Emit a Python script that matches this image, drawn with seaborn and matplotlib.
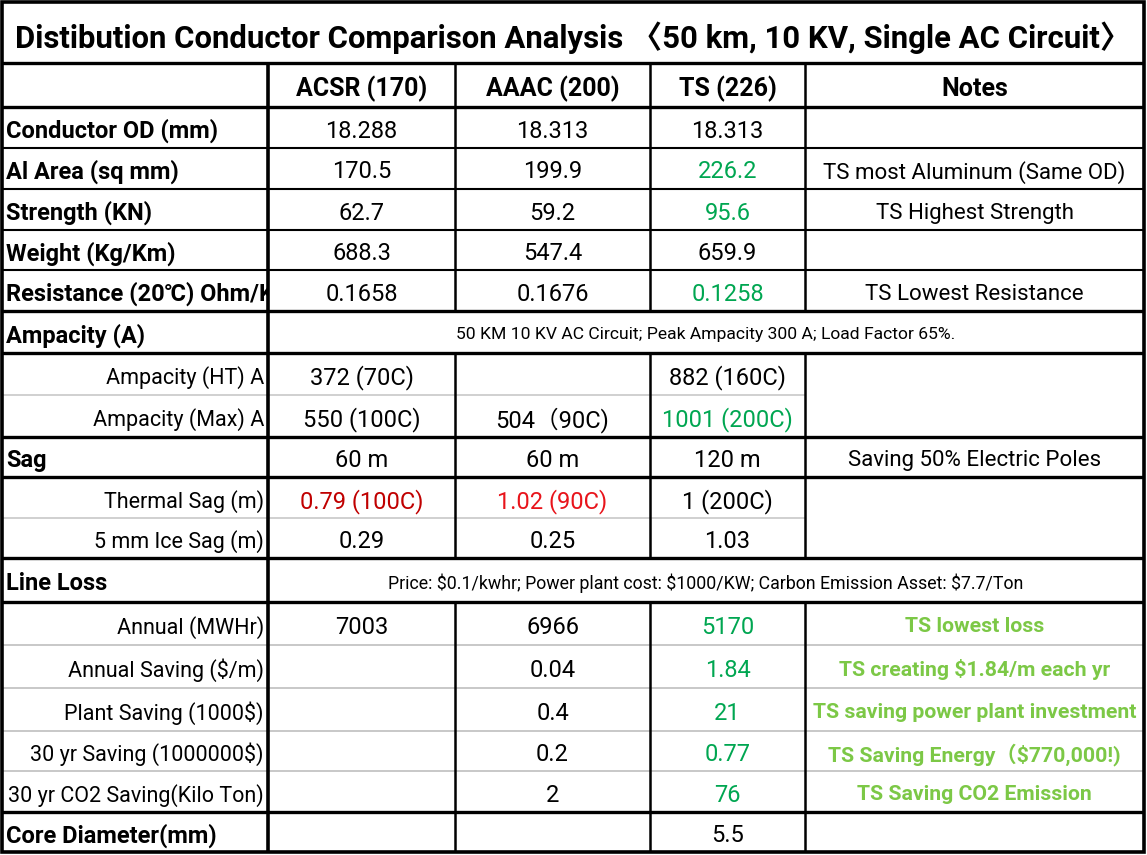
import matplotlib
matplotlib.use("Agg")
import matplotlib.pyplot as plt
from matplotlib import font_manager
from matplotlib.patches import Rectangle
import seaborn as sns

# ---------------- data ----------------
title = "Distibution Conductor Comparison Analysis \u300850 km, 10 KV, Single AC Circuit\u3009"
columns = ["ACSR (170)", "AAAC (200)", "TS (226)", "Notes"]
row_labels = ["Conductor OD (mm)", "Al Area (sq mm)", "Strength (KN)", "Weight (Kg/Km)",
              "Resistance (20\u2103) Ohm/Km", "Ampacity (A)", "Ampacity (HT) A", "Ampacity (Max) A",
              "Sag", "Thermal Sag (m)", "5 mm Ice Sag (m)", "Line Loss", "Annual (MWHr)",
              "Annual Saving ($/m)", "Plant Saving (1000$)", "30 yr Saving (1000000$)",
              "30 yr CO2 Saving(Kilo Ton)", "Core Diameter(mm)"]
row_kind = ["main", "main", "main", "main", "main", "merged", "sub", "sub", "main", "sub", "sub",
            "merged", "sub", "sub", "sub", "sub", "sub", "main"]
acsr = ["18.288", "170.5", "62.7", "688.3", "0.1658", "", "372 (70C)", "550 (100C)", "60 m",
        "0.79 (100C)", "0.29", "", "7003", "", "", "", "", ""]
aaac = ["18.313", "199.9", "59.2", "547.4", "0.1676", "", "", "504\uff0890C)", "60 m",
        "1.02 (90C)", "0.25", "", "6966", "0.04", "0.4", "0.2", "2", ""]
ts = ["18.313", "226.2", "95.6", "659.9", "0.1258", "", "882 (160C)", "1001 (200C)", "120 m",
      "1 (200C)", "1.03", "", "5170", "1.84", "21", "0.77", "76", "5.5"]
notes = ["", "TS most Aluminum (Same OD)", "TS Highest Strength", "", "TS Lowest Resistance", "",
         "", "", "Saving 50% Electric Poles", "", "", "", "TS lowest loss",
         "TS creating $1.84/m each yr", "TS saving power plant investment",
         "TS Saving Energy\uff08$770,000!)", "TS Saving CO2 Emission", ""]
merged_text = {5: "50 KM 10 KV AC Circuit; Peak Ampacity 300 A; Load Factor 65%.",
               11: "Price: $0.1/kwhr; Power plant cost: $1000/KW; Carbon Emission Asset: $7.7/Ton"}

# ---------------- styles ----------------
GREEN = "#00A651"
LGREEN = "#7CC846"
RED1 = "#C00000"
RED2 = "#E8141B"
acsr_col = {9: RED1}
aaac_col = {9: RED2}
ts_col = {1: GREEN, 2: GREEN, 4: GREEN, 7: GREEN, 12: GREEN, 13: GREEN, 14: GREEN, 15: GREEN, 16: GREEN}
note_green = {12, 13, 14, 15, 16}

sns.set_theme(style="white")
avail = {f.name for f in font_manager.fontManager.ttflist}
base = "Liberation Sans Narrow" if "Liberation Sans Narrow" in avail else "Roboto"
FAM = [base, "DejaVu Sans", "Noto Sans CJK SC"]
FAM_T = [base, "Noto Sans CJK SC", "DejaVu Sans"]
plt.rcParams["font.family"] = FAM

W, H = 1147, 855
fig = plt.figure(figsize=(W / 100, H / 100), dpi=100)
ax = fig.add_axes([0, 0, 1, 1])
ax.set_xlim(0, W)
ax.set_ylim(H, 0)
ax.axis("off")

# layout (pixel grid of the table)
xb = [2, 268, 455, 650, 805, 1144]
yb = [2, 63, 107, 148, 189, 230, 270, 311, 353, 395, 437, 477, 518, 558, 602, 645, 688, 731, 771, 812, 852]
ry = yb[2:]

FS = 17
def put(x, y, s, ha="center", weight="normal", color="black", size=FS, fam=None, z=5):
    return ax.text(x, y, s, ha=ha, va="center_baseline", fontsize=size, fontweight=weight,
                   color=color, family=fam or FAM, zorder=z)

# title
tt = put((xb[0] + xb[-1]) / 2, (yb[0] + yb[1]) / 2 + 2, title, weight="bold", size=28, fam=FAM_T)
fig.canvas.draw()
bb = tt.get_window_extent()
tt.set_fontsize(28 * 1118 / bb.width)

# header
for j, c in enumerate(columns):
    put((xb[j + 1] + xb[j + 2]) / 2, (yb[1] + yb[2]) / 2 + 1, c, weight="bold", size=FS + 1)

cols = [acsr, aaac, ts]
cmaps = [acsr_col, aaac_col, ts_col]
for i, lab in enumerate(row_labels):
    yc = (ry[i] + ry[i + 1]) / 2 + 1
    if row_kind[i] == "sub":
        put(xb[1] - 4, yc, lab, ha="right", size=FS - 1.5)
    else:
        put(xb[0] + 4, yc, lab, ha="left", weight="bold", size=FS, z=3)
        # mask the overflow of a long label into the neighbouring cell
        ax.add_patch(Rectangle((xb[1], ry[i] + 2), 40, ry[i + 1] - ry[i] - 4,
                               fc="white", ec="none", zorder=4))
    if row_kind[i] == "merged":
        put((xb[1] + xb[-1]) / 2, yc, merged_text[i], size=12.6 if i == 5 else 12.8)
        continue
    for j in range(3):
        put((xb[j + 1] + xb[j + 2]) / 2, yc, cols[j][i], color=cmaps[j].get(i, "black"))
    if notes[i]:
        g = i in note_green
        put((xb[4] + xb[5]) / 2, yc, notes[i], weight="bold" if g else "normal",
            color=LGREEN if g else "black", size=15.3 if g else 16)

# ---------------- grid lines ----------------
K = "black"
GR = "#c8c8c8"
def hl(y, x0, x1, lw, c=K):
    ax.plot([x0, x1], [y, y], color=c, lw=lw, solid_capstyle="butt", zorder=6)
def vl(x, y0, y1, lw, c=K):
    ax.plot([x, x], [y0, y1], color=c, lw=lw, solid_capstyle="butt", zorder=6)

thick = 2.4
for y in [yb[1], yb[2], 311, 353, 437, 477, 558, 602, 812]:
    hl(y, xb[0], xb[-1], thick)
for y in [148, 189, 230, 270]:
    hl(y, xb[0], xb[-1], 1.5)
for y in [395, 518]:
    hl(y, xb[0], xb[4], 1.2, GR)
for y in [645, 688, 731, 771]:
    hl(y, xb[0], xb[-1], 1.4, GR)

# outer border
ax.add_patch(Rectangle((xb[0], yb[0]), xb[-1] - xb[0], yb[-1] - yb[0], fill=False, ec=K, lw=2.6,
                       zorder=6))
vl(xb[1], yb[1], yb[-1], 2.6)
segs = [(yb[1], 311), (353, 558), (602, yb[-1])]
for x in xb[2:5]:
    for a, b in segs:
        vl(x, a, b, 1.8)

fig.savefig("out.png", dpi=100)
